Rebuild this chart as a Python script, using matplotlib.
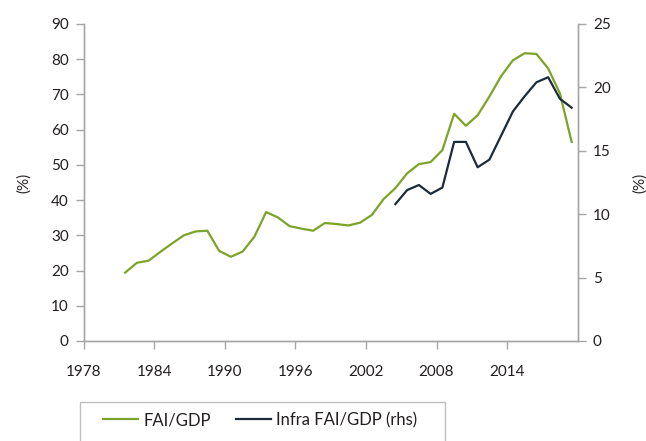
import matplotlib
matplotlib.use("Agg")
import matplotlib.pyplot as plt
from matplotlib.patches import Rectangle
from matplotlib.lines import Line2D

# Données
annees_fai = list(range(1981, 2020))
fai_pib = [19.4, 22.2, 22.8, 25.3, 27.7, 30.0, 31.1, 31.3, 25.6, 23.9,
           25.4, 29.6, 36.6, 35.1, 32.6, 31.9, 31.3, 33.5, 33.2, 32.8,
           33.6, 35.8, 40.3, 43.4, 47.6, 50.2, 50.8, 54.2, 64.5, 61.1,
           64.1, 69.4, 75.2, 79.7, 81.7, 81.5, 77.4, 70.3, 56.5]

annees_infra = list(range(2004, 2020))
infra_pib = [10.8, 11.9, 12.3, 11.6, 12.1, 15.7, 15.7, 13.7, 14.3, 16.2,
             18.1, 19.3, 20.4, 20.8, 19.1, 18.4]

ticks_x = [1978, 1984, 1990, 1996, 2002, 2008, 2014]

vert = "#7ba428"
sombre = "#1c2b3a"
gris = "#a6a6a6"
texte = "#231f20"

plt.rcParams['font.family'] = ['Lato', 'DejaVu Sans']

fig = plt.figure(figsize=(6.46, 4.41), dpi=100)
ax = fig.add_axes([0.130, 0.2268, 0.764, 0.7188])
ax2 = ax.twinx()

# points placés au milieu de l'année
ax.plot([a + 0.5 for a in annees_fai], fai_pib, color=vert, lw=1.6)
ax2.plot([a + 0.5 for a in annees_infra], infra_pib, color=sombre, lw=1.6)

ax.set_xlim(1978, 2020)
ax.set_ylim(0, 90)
ax2.set_ylim(0, 25)
ax.set_xticks(ticks_x)
ax.set_yticks(range(0, 91, 10))
ax2.set_yticks(range(0, 26, 5))

for a in (ax, ax2):
    a.spines['top'].set_visible(False)
    for s in ('left', 'right', 'bottom'):
        a.spines[s].set_color(gris)
        a.spines[s].set_linewidth(1.0)
    a.tick_params(colors=gris, labelcolor=texte, labelsize=11, length=6, width=1.0)

ax.tick_params(axis='x', pad=11)
ax.tick_params(axis='y', pad=5)
ax2.tick_params(axis='y', pad=5)

ax.set_ylabel("(%)", fontsize=11, color=texte, labelpad=14)
ax2.set_ylabel("(%)", fontsize=11, color=texte, labelpad=16)

# Cadre de la légende, coupé par le bas de la figure
fig.patches.append(Rectangle((80 / 646, -0.1), 365 / 646, 0.1 + 1 - 401.7 / 441,
                             transform=fig.transFigure, fill=False,
                             edgecolor="#bfbfbf", lw=1.0))

poignees = [Line2D([], [], color=vert, lw=1.6), Line2D([], [], color=sombre, lw=1.6)]
fig.legend(poignees, ["FAI/GDP", "Infra FAI/GDP (rhs)"], loc='center left',
           bbox_to_anchor=(88 / 646, 1 - 420 / 441), frameon=False, ncol=2,
           fontsize=12, handlelength=2.1, handletextpad=0.35, columnspacing=1.45,
           labelcolor=texte)

fig.savefig("out.png", dpi=100)
